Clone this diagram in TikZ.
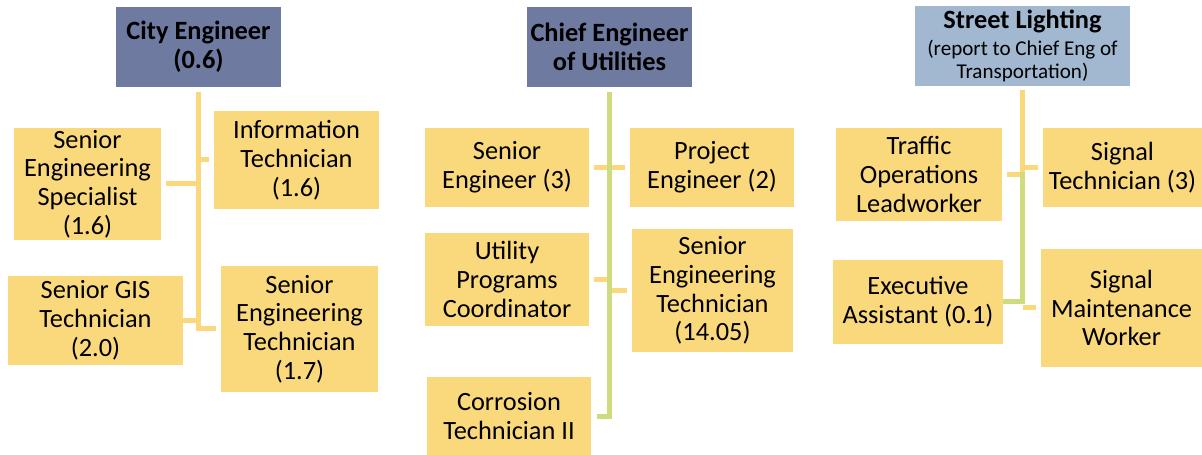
\documentclass[tikz,border=0pt]{standalone}
\usepackage{fontspec}
\setmainfont{Carlito}
\usetikzlibrary{positioning,calc}

\definecolor{headdark}{HTML}{6F7AA0}
\definecolor{headlight}{HTML}{A2B8D0}
\definecolor{jobyellow}{HTML}{FAD97C}
\definecolor{linegreen}{HTML}{CFDB7C}
\newcommand{\jobfont}{\fontsize{15}{16.4}\selectfont}
\newcommand{\subfont}{\fontsize{12}{13}\selectfont}

\begin{document}
\begin{tikzpicture}[x=0.02cm, y=-0.02cm,
    sz/.style 2 args={minimum width=#1*0.02cm, minimum height=#2*0.02cm},
    job/.style={fill=jobyellow, align=center, inner sep=0pt, font=\jobfont},
    head/.style={fill=headdark, align=center, inner sep=0pt, font=\jobfont\bfseries, sz={165}{80}},
    headl/.style={fill=headlight, align=center, inner sep=0pt, font=\subfont, sz={215}{80}},
    yline/.style={draw=jobyellow, line width=0.1cm},
    gline/.style={draw=linegreen, line width=0.1cm}
]
\useasboundingbox (0,0) rectangle (1202,455);

% City Engineer
\node[head] (CE) at (198.5,47) {City Engineer\\(0.6)};
\node[job, sz={165}{98}] (IT) at (296.5,160) {Information\\Technician\\(1.6)};
\node[job, sz={147}{112}] (SES) at (87.5,184) {Senior\\Engineering\\Specialist\\(1.6)};
\node[job, sz={175}{89}] (GIS) at (95.5,320.5) {Senior GIS\\Technician\\(2.0)};
\node[job, sz={157}{126}] (SET) at (299.5,329) {Senior\\Engineering\\Technician\\(1.7)};

% Chief Engineer of Utilities
\node[head] (CEU) at (609.5,47) {Chief Engineer\\of Utilities};
\node[job, sz={164}{79}] (SE) at (507,167.5) {Senior\\Engineer (3)};
\node[job, sz={164}{79}] (PE) at (712,167.5) {Project\\Engineer (2)};
\node[job, sz={164}{93}] (UPC) at (507,279.5) {Utility\\Programs\\Coordinator};
\node[job, sz={161}{123}] (SET2) at (712.5,290.5) {Senior\\Engineering\\Technician\\(14.05)};
\node[job, sz={164}{78}] (CT) at (509,416) {Corrosion\\Technician II};

% Street Lighting
\node[headl] (SL) at (1022.5,46) {{\jobfont\bfseries Street Lighting}\\[2pt](report to Chief Eng of\\Transportation)};
\node[job, sz={166}{93}] (TOL) at (919,174.5) {Traffic\\Operations\\Leadworker};
\node[job, sz={159}{79}] (ST) at (1122.5,167.5) {Signal\\Technician (3)};
\node[job, sz={170}{84}] (EA) at (918,302) {Executive\\Assistant (0.1)};
\node[job, sz={161}{118}] (SMW) at (1121.5,308) {Signal\\Maintenance\\Worker};

% connectors
\coordinate (t1) at ([yshift=-0.1cm]CE.south);
\coordinate (t2) at ([yshift=-0.1cm]CEU.south);
\coordinate (t3) at ([yshift=-0.08cm]SL.south);

\draw[yline] (t1) |- ([xshift=-0.1cm]SET.west);
\draw[yline] (t1 |- IT.west) -- ([xshift=-0.1cm]IT.west);
\draw[yline] (t1 |- SES.east) -- ([xshift=0.1cm]SES.east);
\draw[yline] (t1 |- GIS.east) -- (GIS.east);

\draw[yline] ([xshift=0.1cm]SE.east) -- ([xshift=-0.1cm]PE.west);
\draw[yline] ([xshift=0.1cm]UPC.east) -- (t2 |- UPC.east);
\draw[yline] (t2 |- SET2.west) -- ([xshift=-0.1cm]SET2.west);
\draw[gline] (t2) |- ([xshift=0.12cm]CT.east);

\draw[yline] (t3 |- ST.west) -- ([xshift=-0.1cm]ST.west);
\draw[yline] (t3 |- SMW.west) -- ([xshift=-0.1cm]SMW.west);
\draw[yline] (t3) |- ([xshift=0.1cm]TOL.east);
\draw[gline] ([yshift=0.05cm]t3 |- TOL.east) |- (EA.east);
\end{tikzpicture}
\end{document}
